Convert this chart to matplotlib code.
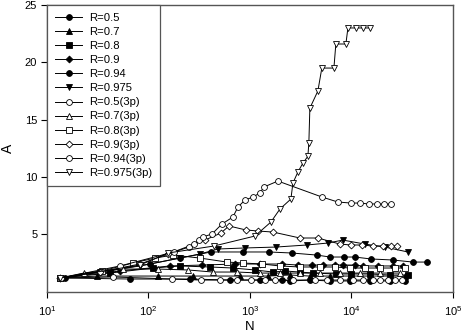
import matplotlib
matplotlib.use('Agg')
import matplotlib.pyplot as plt

plt.rcParams['font.family'] = ['Liberation Sans', 'DejaVu Sans']
plt.rcParams['mathtext.fontset'] = 'custom'
plt.rcParams['mathtext.rm'] = 'Liberation Sans'
plt.rcParams['mathtext.it'] = 'Liberation Sans'

# values (N on log axis, A linear)
n_05 = [15.0, 65.7, 256, 635, 1256, 2066, 2479, 3899, 6138, 9661, 15210, 23930, 33650]
a_05 = [1.18, 1.09, 1.09, 1.00, 1.00, 1.00, 0.92, 1.00, 0.92, 0.92, 0.92, 0.92, 0.92]

n_07 = [13.4, 31.1, 124, 274, 797, 1504, 2479, 3899, 6138, 9661, 15210, 23930, 33650]
a_07 = [1.18, 1.35, 1.35, 1.35, 1.35, 1.35, 1.44, 1.35, 1.35, 1.35, 1.35, 1.35, 1.35]

n_08 = [13.4, 41.7, 110.7, 204, 404, 680, 1120, 1686, 2213, 3111, 4176, 7031, 9886, 15210, 23930, 36060]
a_08 = [1.18, 1.61, 2.05, 2.23, 2.14, 2.05, 1.88, 1.70, 1.79, 1.70, 1.61, 1.53, 1.53, 1.53, 1.44, 1.44]

n_09 = [13.4, 52.4, 163, 337, 711, 1256, 2066, 2972, 4082, 5236, 6871, 8241, 10820, 12970, 18240, 25640, 32150]
a_09 = [1.18, 1.79, 2.23, 2.31, 2.40, 2.40, 2.40, 2.31, 2.31, 2.31, 2.31, 2.31, 2.31, 2.23, 2.23, 2.23, 2.23]

n_094 = [14.1, 33.3, 103.5, 204, 413, 853, 1538, 2594, 4571, 6138, 8433, 10820, 15560, 25640, 40360, 55460]
a_094 = [1.18, 1.70, 2.40, 2.92, 3.45, 3.45, 3.45, 3.36, 3.18, 3.01, 3.01, 3.01, 2.84, 2.75, 2.57, 2.57]

n_0975 = [13.4, 33.3, 82.5, 204, 322, 484, 893, 1803, 3647, 5861, 8241, 13580, 21380, 36060]
a_0975 = [1.18, 1.70, 2.23, 2.92, 3.27, 3.71, 3.80, 3.88, 4.06, 4.23, 4.49, 4.14, 3.88, 3.45]

n_05_3p = [13.4, 44.7, 171, 329, 506, 745, 1023, 1406, 1763, 2655, 4365, 5741, 7709, 10350, 12970, 16300, 19100, 22910, 26850, 31470]
a_05_3p = [1.18, 1.27, 1.09, 1.00, 1.00, 1.00, 1.00, 1.00, 1.00, 1.00, 1.00, 1.00, 1.00, 1.00, 1.00, 1.00, 1.00, 1.00, 1.00, 1.00]

n_07_3p = [13.4, 23.1, 56.1, 124, 245, 432, 745, 1256, 1977, 3111, 4898, 7709, 12130, 19100, 30060]
a_07_3p = [1.18, 1.61, 1.96, 1.96, 1.88, 1.70, 1.70, 1.61, 1.61, 1.61, 1.61, 1.61, 1.61, 1.61, 1.61]

n_08_3p = [13.4, 34.8, 70.3, 115.9, 174, 322, 593, 853, 1313, 1977, 3111, 4898, 6871, 9661, 13580, 19100, 26850, 33650]
a_08_3p = [1.18, 1.79, 2.49, 2.92, 3.18, 2.92, 2.57, 2.49, 2.40, 2.23, 2.14, 2.14, 2.14, 2.05, 2.05, 2.05, 2.05, 2.05]

n_09_3p = [13.4, 33.3, 82.5, 156, 360, 518, 621, 914, 1200, 1686, 3111, 4677, 7709, 9886, 12680, 16300, 20420, 24490, 28060]
a_09_3p = [1.18, 1.70, 2.40, 3.27, 4.49, 5.10, 5.72, 5.37, 5.28, 5.19, 4.67, 4.67, 4.14, 4.06, 4.06, 3.97, 3.97, 3.97, 3.97]

n_094_3p = [13.7, 52.4, 178, 251, 281, 315, 344, 423, 530, 680, 762, 893, 1072, 1256, 1374, 1888,
            5117, 7362, 9886, 12130, 14860, 17830, 20890, 24490]
a_094_3p = [1.18, 2.23, 3.45, 3.88, 4.14, 4.49, 4.76, 5.02, 5.89, 6.50, 7.37, 7.98, 8.25, 8.60, 9.12, 9.64,
            8.25, 7.81, 7.72, 7.72, 7.64, 7.64, 7.64, 7.64]

n_0975_3p = [13.4, 82.5, 156, 442, 1120, 1610, 1977, 2535, 2655, 2972, 3327, 3727, 3811, 3899,
             4677, 5117, 6730, 7031, 8831, 9247, 11070, 12970, 15210]
a_0975_3p = [1.18, 2.31, 3.36, 3.97, 4.84, 6.06, 7.20, 8.07, 9.47, 10.43, 11.2, 11.8, 12.96, 16.0,
             17.5, 19.5, 19.5, 21.6, 21.6, 23.0, 23.0, 23.0, 23.0]

series = [
    ('R=0.5', n_05, a_05, 'o', 'k'),
    ('R=0.7', n_07, a_07, '^', 'k'),
    ('R=0.8', n_08, a_08, 's', 'k'),
    ('R=0.9', n_09, a_09, 'D', 'k'),
    ('R=0.94', n_094, a_094, 'o', 'k'),
    ('R=0.975', n_0975, a_0975, 'v', 'k'),
    ('R=0.5(3p)', n_05_3p, a_05_3p, 'o', 'w'),
    ('R=0.7(3p)', n_07_3p, a_07_3p, '^', 'w'),
    ('R=0.8(3p)', n_08_3p, a_08_3p, 's', 'w'),
    ('R=0.9(3p)', n_09_3p, a_09_3p, 'D', 'w'),
    ('R=0.94(3p)', n_094_3p, a_094_3p, 'o', 'w'),
    ('R=0.975(3p)', n_0975_3p, a_0975_3p, 'v', 'w'),
]

fig = plt.figure(figsize=(4.63, 3.36), dpi=100)
ax = fig.add_axes([0.1015, 0.1324, 0.8765, 0.8526])

for label, n, a, mk, fc in series:
    ms = 4.2 if mk != 'D' else 3.5
    ax.plot(n, a, color='k', lw=0.7, marker=mk, ms=ms, mfc=fc, mec='k', mew=0.6, label=label)

ax.set_xscale('log')
ax.set_xlim(10, 1e5)
ax.set_ylim(0, 25)
ax.set_yticks([5, 10, 15, 20, 25])
ax.minorticks_off()
ax.tick_params(direction='out', length=4, width=0.8, labelsize=8, pad=3, top=False, right=False)
ax.tick_params(axis='x', pad=5)
for sp in ax.spines.values():
    sp.set_color('#555555')
    sp.set_linewidth(1.0)

ax.set_xlabel('N', fontsize=9.5)
ax.set_ylabel('A', fontsize=10)
ax.xaxis.set_label_coords(0.5, -0.103)
ax.yaxis.set_label_coords(-0.078, 0.5)

leg = ax.legend(loc='upper left', bbox_to_anchor=(0, 1), borderaxespad=0, fontsize=8.1,
                frameon=True, fancybox=False, edgecolor='#555555', framealpha=1,
                handlelength=2.4, labelspacing=0.36, borderpad=0.72, handletextpad=0.6)
leg.get_frame().set_linewidth(0.9)

plt.savefig('out.png', dpi=100)
